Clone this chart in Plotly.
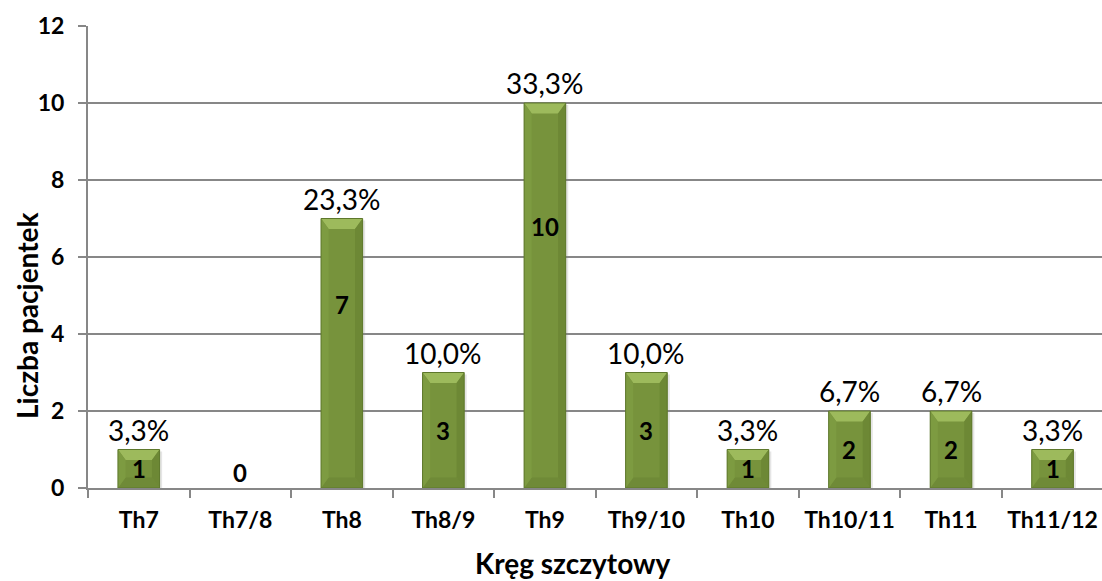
import plotly.graph_objects as go

# Patient counts per apex vertebra level
categories = ["Th7", "Th7/8", "Th8", "Th8/9", "Th9", "Th9/10", "Th10", "Th10/11", "Th11", "Th11/12"]
patients = [1, 0, 7, 3, 10, 3, 1, 2, 2, 1]
y_ticks = [0, 2, 4, 6, 8, 10, 12]

total = sum(patients)
pct_labels = [f"{v / total * 100:.1f}".replace(".", ",") + "%" for v in patients]

W, H = 1102, 581
L, R, T, B = 88, 0, 26, 93
FONT = "Lato"
GRID = "#878787"

BAR_W = 0.41
FACE = "#77933C"
EDGE = "#5E782C"

fig = go.Figure()
fig.add_trace(go.Bar(
    x=categories, y=patients, width=BAR_W,
    marker=dict(color=FACE, line=dict(width=0)),
    hoverinfo="x+y",
))

# bevel facets drawn over each bar in data coordinates
dx, dy = 0.075, 0.27
shapes = []
for i, v in enumerate(patients):
    if v <= 0:
        continue
    x0, x1 = i - BAR_W / 2, i + BAR_W / 2
    # soft drop shadow
    shapes.append(dict(type="rect", x0=x0 + 0.01, x1=x1 + 0.025, y0=-0.06, y1=v - 0.05,
                       xref="x", yref="y", fillcolor="rgba(0,0,0,0.10)",
                       line=dict(width=0), layer="below"))
    facets = [
        (f"M{x0},{v} L{x1},{v} L{x1 - dx},{v - dy} L{x0 + dx},{v - dy} Z", "#9DBA5C"),
        (f"M{x0},0 L{x1},0 L{x1 - dx},{dy} L{x0 + dx},{dy} Z", "#6F8A37"),
        (f"M{x0},0 L{x0 + dx},{dy} L{x0 + dx},{v - dy} L{x0},{v} Z", "#7D9B41"),
        (f"M{x1},0 L{x1 - dx},{dy} L{x1 - dx},{v - dy} L{x1},{v} Z", "#6D8835"),
    ]
    for path, col in facets:
        shapes.append(dict(type="path", path=path, xref="x", yref="y",
                           fillcolor=col, line=dict(width=0), layer="above"))
    shapes.append(dict(type="rect", x0=x0, x1=x1, y0=0, y1=v, xref="x", yref="y",
                       line=dict(color=EDGE, width=1), layer="above"))

annotations = []
for i, (v, p) in enumerate(zip(patients, pct_labels)):
    # count label inside the bar
    ly = v / 2 if v <= 3 else v * 0.68
    annotations.append(dict(
        x=i, y=ly, xref="x", yref="y", text=f"<b>{v}</b>", showarrow=False,
        yanchor="middle", yshift=16 if v == 0 else 0,
        font=dict(family=FONT, size=24, color="black"),
    ))
    if v > 0:
        annotations.append(dict(
            x=i, y=v, xref="x", yref="y", text=p, showarrow=False,
            yanchor="bottom", yshift=1,
            font=dict(family=FONT, size=28, color="black"),
        ))

plot_w = W - L - R
annotations.append(dict(
    x=(27 - L) / plot_w, y=1 - (316 - T) / (H - T - B), xref="paper", yref="paper",
    text="<b>Liczba pacjentek</b>", textangle=-90, showarrow=False,
    xanchor="center", yanchor="middle",
    font=dict(family=FONT, size=28, color="black"),
))
annotations.append(dict(
    x=(572 - L) / plot_w, y=-(563 - (H - B)) / (H - T - B), xref="paper", yref="paper",
    text="<b>Kręg szczytowy</b>", showarrow=False,
    xanchor="center", yanchor="middle",
    font=dict(family=FONT, size=28, color="black"),
))

fig.update_layout(
    width=W, height=H,
    margin=dict(l=L, r=R, t=T, b=B, pad=0),
    paper_bgcolor="white", plot_bgcolor="white",
    showlegend=False,
    bargap=0.59,
    shapes=shapes,
    annotations=annotations,
    xaxis=dict(
        type="category", range=[-0.5, 9.487],
        showline=True, linecolor=GRID, linewidth=2,
        ticks="outside", tickson="boundaries", ticklen=8, tickcolor=GRID, tickwidth=2,
        showgrid=False, zeroline=False,
        tickfont=dict(family=FONT, size=23, color="black", weight="bold"),
        ticklabelstandoff=10,
    ),
    yaxis=dict(
        range=[0, 12], tickvals=y_ticks,
        showline=True, linecolor=GRID, linewidth=2,
        ticks="outside", ticklen=8, tickcolor=GRID, tickwidth=2,
        showgrid=True, gridcolor=GRID, gridwidth=2, zeroline=False,
        tickfont=dict(family=FONT, size=23, color="black", weight="bold"),
        ticklabelstandoff=9,
    ),
)

fig.write_html("out.html")
